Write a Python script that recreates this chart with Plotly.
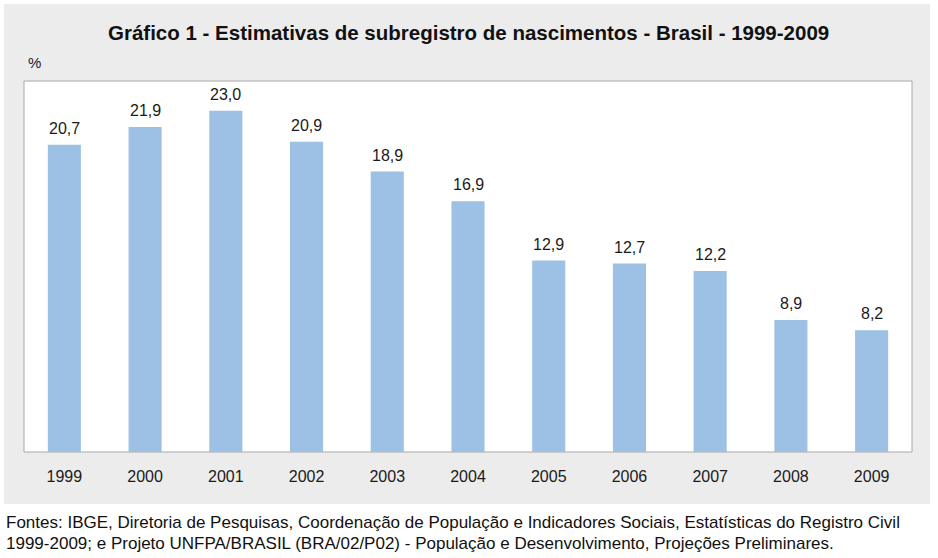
import plotly.graph_objects as go

years = ["1999", "2000", "2001", "2002", "2003", "2004", "2005", "2006", "2007", "2008", "2009"]
values = [20.7, 21.9, 23.0, 20.9, 18.9, 16.9, 12.9, 12.7, 12.2, 8.9, 8.2]
labels = [f"{v:.1f}".replace(".", ",") for v in values]

title = "Gráfico 1 - Estimativas de subregistro de nascimentos - Brasil - 1999-2009"
unit = "%"
source1 = "Fontes: IBGE, Diretoria de Pesquisas, Coordenação de População e Indicadores Sociais, Estatísticas do Registro Civil"
source2 = "1999-2009; e Projeto UNFPA/BRASIL (BRA/02/P02) - População e Desenvolvimento, Projeções Preliminares."

W, H = 938, 558
L, R, T, B = 24, 912, 81, 452
pw, ph = R - L, B - T

def px(x):
    return (x - L) / pw

def py(y):
    return (B - y) / ph

FONT = "Liberation Sans, Arial, sans-serif"

fig = go.Figure(go.Bar(
    x=years, y=values, marker=dict(color="#9dc0e5", line=dict(width=0)),
    width=0.41, hoverinfo="skip",
))

for i, (v, lab) in enumerate(zip(values, labels)):
    fig.add_annotation(x=i, y=v, text=lab, showarrow=False, yanchor="bottom",
                       yshift=6, font=dict(size=16, color="#1a1a1a", family=FONT))

fig.add_shape(type="rect", xref="paper", yref="paper", x0=px(4), x1=px(930), y0=py(504), y1=py(4),
              fillcolor="#ececec", line=dict(width=0), layer="below")
fig.add_shape(type="rect", xref="paper", yref="paper", x0=0, x1=1, y0=0, y1=1,
              fillcolor="white", line=dict(width=1, color="#a8a8a8"), layer="below")

fig.add_annotation(xref="paper", yref="paper", x=px(468), y=py(32), text=f"<b>{title}</b>",
                   showarrow=False, xanchor="center", yanchor="middle",
                   font=dict(size=20.5, color="#111111", family=FONT))
fig.add_annotation(xref="paper", yref="paper", x=px(26), y=py(62), text=unit,
                   showarrow=False, xanchor="left", yanchor="middle",
                   font=dict(size=15, color="#1a1a1a", family=FONT))
fig.add_annotation(xref="paper", yref="paper", x=px(4), y=py(522), text=source1,
                   showarrow=False, xanchor="left", yanchor="middle",
                   font=dict(size=17, color="#111111", family=FONT))
fig.add_annotation(xref="paper", yref="paper", x=px(4), y=py(543), text=source2,
                   showarrow=False, xanchor="left", yanchor="middle",
                   font=dict(size=17, color="#111111", family=FONT))

fig.update_layout(
    width=W, height=H,
    margin=dict(l=L, r=W - R, t=T, b=H - B, pad=0),
    paper_bgcolor="white", plot_bgcolor="rgba(0,0,0,0)",
    showlegend=False,
    xaxis=dict(type="category", range=[-0.5, 10.5], showgrid=False, zeroline=False,
               showline=False, ticks="", ticklabelstandoff=13,
               tickfont=dict(size=16, color="#1a1a1a", family=FONT), fixedrange=True),
    yaxis=dict(range=[0, 25], showgrid=False, zeroline=False, showline=False,
               showticklabels=False, ticks="", fixedrange=True),
)

fig.write_html("out.html", config={"displayModeBar": False},
               post_script="document.body.style.margin='0';document.body.style.overflow='hidden';")
